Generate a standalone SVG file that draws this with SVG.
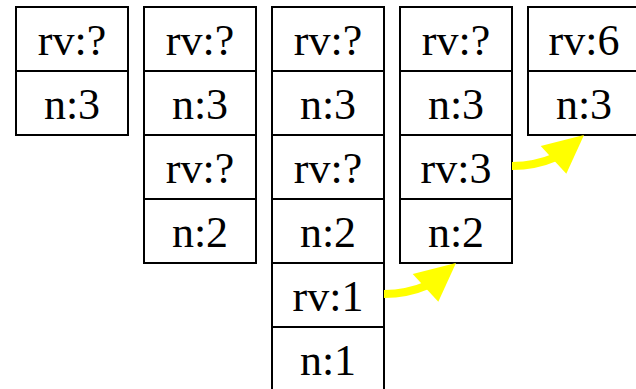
<svg xmlns="http://www.w3.org/2000/svg" width="636" height="389" viewBox="0 0 636 389">
<style>
.cell{fill:#ffffff;stroke:#000000;stroke-width:2}
.t{font-family:"Liberation Serif","Times New Roman",serif;font-size:44px;fill:#000000;text-anchor:middle}
.shaft{fill:none;stroke:#ffff00;stroke-width:8}
.head{fill:#ffff00;stroke:none}
</style>
<rect x="0" y="0" width="636" height="389" fill="#ffffff"/>
<g id="frame1">
<rect class="cell" x="16" y="7" width="112" height="64"/><text class="t" x="72" y="55">rv:?</text>
<rect class="cell" x="16" y="71" width="112" height="64"/><text class="t" x="72" y="119">n:3</text>
</g>
<g id="frame2">
<rect class="cell" x="144" y="7" width="112" height="64"/><text class="t" x="200" y="55">rv:?</text>
<rect class="cell" x="144" y="71" width="112" height="64"/><text class="t" x="200" y="119">n:3</text>
<rect class="cell" x="144" y="135" width="112" height="64"/><text class="t" x="200" y="183">rv:?</text>
<rect class="cell" x="144" y="199" width="112" height="64"/><text class="t" x="200" y="247">n:2</text>
</g>
<g id="frame3">
<rect class="cell" x="272" y="7" width="112" height="64"/><text class="t" x="328" y="55">rv:?</text>
<rect class="cell" x="272" y="71" width="112" height="64"/><text class="t" x="328" y="119">n:3</text>
<rect class="cell" x="272" y="135" width="112" height="64"/><text class="t" x="328" y="183">rv:?</text>
<rect class="cell" x="272" y="199" width="112" height="64"/><text class="t" x="328" y="247">n:2</text>
<rect class="cell" x="272" y="263" width="112" height="64"/><text class="t" x="328" y="311">rv:1</text>
<rect class="cell" x="272" y="327" width="112" height="64"/><text class="t" x="328" y="375">n:1</text>
</g>
<g id="frame4">
<rect class="cell" x="400" y="7" width="112" height="64"/><text class="t" x="456" y="55">rv:?</text>
<rect class="cell" x="400" y="71" width="112" height="64"/><text class="t" x="456" y="119">n:3</text>
<rect class="cell" x="400" y="135" width="112" height="64"/><text class="t" x="456" y="183">rv:3</text>
<rect class="cell" x="400" y="199" width="112" height="64"/><text class="t" x="456" y="247">n:2</text>
</g>
<g id="frame5">
<rect class="cell" x="528" y="7" width="112" height="64"/><text class="t" x="584" y="55">rv:6</text>
<rect class="cell" x="528" y="71" width="112" height="64"/><text class="t" x="584" y="119">n:3</text>
</g>
<g id="connectors">
<path class="shaft" d="M384,294 C400,294 414,291 428,285"/>
<polygon class="head" points="456,263 412.7,274 438.3,301.7"/>
<path class="shaft" d="M512,166 C528,166 542,163 556,157"/>
<polygon class="head" points="584,135 540.7,146 566.3,173.7"/>
</g>
</svg>
